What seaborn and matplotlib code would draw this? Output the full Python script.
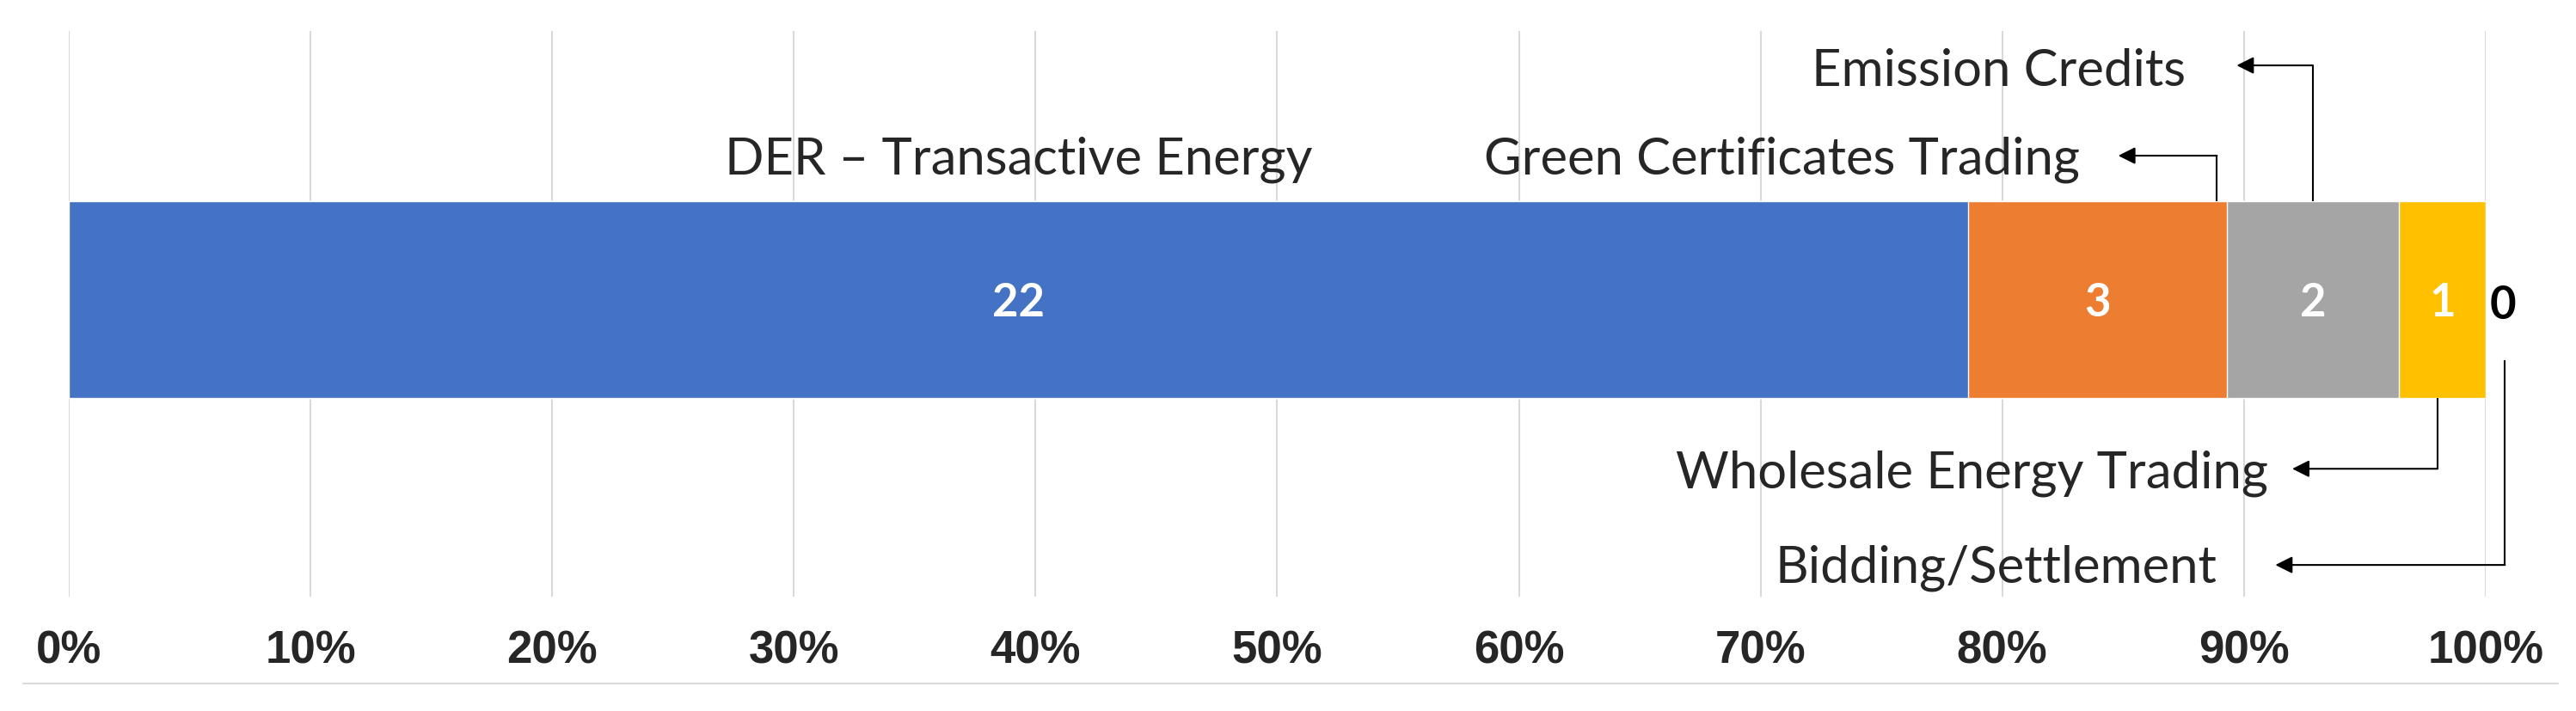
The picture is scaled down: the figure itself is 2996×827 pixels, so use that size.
import numpy as np
import pandas as pd
import seaborn as sns
import matplotlib
import matplotlib.pyplot as plt
from matplotlib.lines import Line2D
matplotlib.use("Agg")

categories = ["DER – Transactive Energy", "Green Certificates Trading", "Emission Credits",
              "Wholesale Energy Trading", "Bidding/Settlement"]
counts = [22, 3, 2, 1, 0]
colors = ["#4472C4", "#ED7D31", "#A5A5A5", "#FFC000", "#5B9BD5"]
tick_values = [0, 0.1, 0.2, 0.3, 0.4, 0.5, 0.6, 0.7, 0.8, 0.9, 1.0]
tick_labels = ["0%", "10%", "20%", "30%", "40%", "50%", "60%", "70%", "80%", "90%", "100%"]

total = sum(counts)
frac = np.array(counts) / total
right = np.cumsum(frac)
left = right - frac
center = (left + right) / 2

sns.set_style("whitegrid")
plt.rcParams["font.family"] = ["Lato", "DejaVu Sans"]

fig = plt.figure(figsize=(29.96, 8.28), dpi=100)
ax = fig.add_axes([0.0267, 0.1606, 0.9382, 0.7947])

df = pd.DataFrame({"category": categories, "share": right, "row": "total"})
# stacked bar: draw the cumulative shares from the back, each one hides the next
for i in reversed(range(len(categories))):
    sns.barplot(data=df.iloc[[i]], x="share", y="row", color=colors[i], saturation=1,
                width=0.8, orient="h", ax=ax)

ax.set_xlim(0, 1)
ax.set_ylim(1.207, -1.093)
ax.grid(axis="x", color="#d9d9d9", linewidth=1.5)
ax.grid(axis="y", visible=False)
for s in ax.spines.values():
    s.set_visible(False)
ax.set_xticks(tick_values)
ax.set_xticklabels(tick_labels, fontfamily="Liberation Sans", fontweight="bold", fontsize=38)
ax.tick_params(axis="x", length=0, pad=27)
ax.set_yticks([])
ax.set_xlabel("")
ax.set_ylabel("")

# values inside the segments
for i, n in enumerate(counts):
    if n > 0:
        ax.text(center[i], 0.01, str(n), ha="center", va="center", color="white",
                fontweight="bold", fontsize=38)
ax.text(right[4] + 0.007, 0.02, str(counts[4]), ha="center", va="center", color="black",
        fontweight="bold", fontsize=38)

# category labels with elbow arrows
lab_size = 43
ax.text(center[0], -0.513, categories[0], ha="center", va="baseline", fontsize=lab_size)

callouts = [
    # label index, text x, baseline y, arrow row y, anchor x, anchor y, tip x
    (1, 0.832, -0.513, -0.586, right[1] - 0.004, -0.4, 0.848),
    (2, 0.876, -0.873, -0.953, center[2], -0.4, 0.897),
    (3, 0.910, 0.760, 0.687, center[3] - 0.002, 0.4, 0.920),
    (4, 0.889, 1.145, 1.078, right[4] + 0.008, 0.246, 0.913),
]
for idx, tx, ty, ry, axx, ayy, tip in callouts:
    ax.text(tx, ty, categories[idx], ha="right", va="baseline", fontsize=lab_size)
    ax.plot([axx, axx], [ayy, ry], color="black", lw=1.5, solid_capstyle="butt", clip_on=False)
    ax.annotate("", xy=(tip, ry), xytext=(axx, ry),
                arrowprops=dict(arrowstyle="-|>", color="black", lw=1.5,
                                mutation_scale=30, shrinkA=0, shrinkB=0),
                annotation_clip=False)

fig.add_artist(Line2D([27 / 2996, 2975 / 2996], [1 - 796 / 828] * 2, color="#d9d9d9", lw=1.5))

fig.savefig("out.png", dpi=100)
